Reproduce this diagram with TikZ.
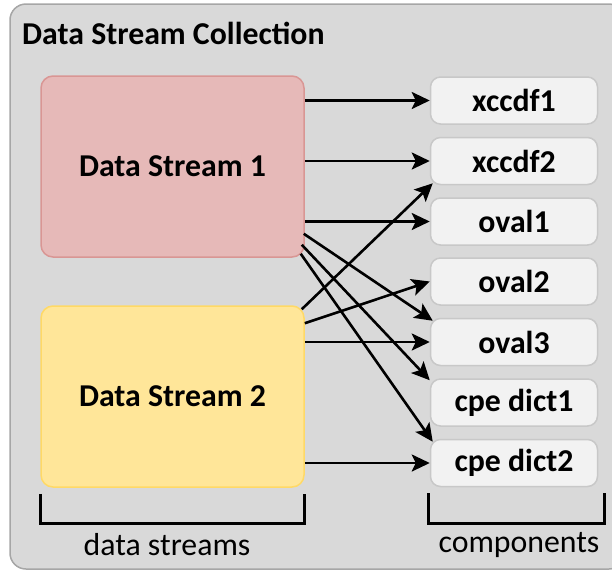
\documentclass[tikz,border=0pt]{standalone}
\usepackage{fontspec}
\setmainfont{Carlito}
\usetikzlibrary{arrows.meta,calc}
\definecolor{outerfill}{HTML}{D9D9D9}
\definecolor{outerdraw}{HTML}{A6A6A6}
\definecolor{dsonefill}{HTML}{E6B9B8}
\definecolor{dsonedraw}{HTML}{D99694}
\definecolor{dstwofill}{HTML}{FFE699}
\definecolor{dstwodraw}{HTML}{FFD966}
\definecolor{compfill}{HTML}{F2F2F2}
\definecolor{compdraw}{HTML}{C8C8C8}
\begin{document}
\begin{tikzpicture}[x=1pt,y=-1pt,
  txt/.style={font=\fontsize{31.8}{38}\selectfont},
  boldtxt/.style={font=\fontsize{31.8}{38}\selectfont\bfseries},
  outerbox/.style={draw=outerdraw,fill=outerfill,line width=1.5pt,rounded corners=16pt,minimum width=615pt,minimum height=565pt,inner sep=0pt},
  dsbox/.style={boldtxt,line width=1.5pt,rounded corners=12pt,minimum width=263pt,minimum height=181pt,inner sep=0pt},
  compbox/.style={boldtxt,draw=compdraw,fill=compfill,line width=1.5pt,rounded corners=10pt,minimum width=167pt,minimum height=47pt,inner sep=0pt},
  conn/.style={line width=2.6pt,-{Stealth[length=18pt,width=17pt,inset=4pt]}},
  brk/.style={line width=2.6pt}]
\useasboundingbox (0,0) rectangle (612,571);
\clip (0,0) rectangle (612,571);
\node[outerbox] (coll) at (317.5,286.5) {};
\node[boldtxt,anchor=base west,inner sep=0pt] (title) at (22,44) {Data Stream Collection};
\node[dsbox,draw=dsonedraw,fill=dsonefill] (ds1) at (172.5,166.5) {Data Stream 1};
\node[dsbox,draw=dstwodraw,fill=dstwofill] (ds2) at (172.5,396.5) {Data Stream 2};
\node[compbox] (x1) at (514,100.5) {xccdf1};
\node[compbox] (x2) at (514,161) {xccdf2};
\node[compbox] (o1) at (514,221.5) {oval1};
\node[compbox] (o2) at (514,281.5) {oval2};
\node[compbox] (o3) at (514,342) {oval3};
\node[compbox] (c1) at (514,402.5) {cpe dict1};
\node[compbox] (c2) at (514,463) {cpe dict2};
% horizontal arrows
\draw[conn] (ds1.east |- x1.west) -- (x1.west);
\draw[conn] (ds1.east |- x2.west) -- (x2.west);
\draw[conn] (ds1.east |- o1.west) -- (o1.west);
\draw[conn] (ds2.east |- o3.west) -- (o3.west);
\draw[conn] (ds2.east |- c2.west) -- (c2.west);
% diagonal arrows
\draw[conn] ($(ds1.south east)+(-1,-24)$) -- ($(o3.north west)+(3,3)$);
\draw[conn] ($(ds1.south east)+(-3,-13)$) -- ($(c1.north west)+(0,2)$);
\draw[conn] ($(ds1.south east)+(-4,-4)$) -- ($(c2.north west)+(3,3)$);
\draw[conn] ($(ds2.north east)+(-3,4)$) -- ($(x2.south west)+(3,-2)$);
\draw[conn] ($(ds2.north east)+(0,18)$) -- (o2.west);
% brackets
\coordinate (b1a) at ($(ds2.south west)+(0,6)$);
\coordinate (b1b) at ($(ds2.south east)+(0,6)$);
\coordinate (b2a) at ($(c2.south west)+(-1,6)$);
\coordinate (b2b) at ($(c2.south east)+(6,6)$);
\draw[brk] (b1a) -- ++(0,30) -| (b1b);
\draw[brk] (b2a) -- ++(0,30) -| (b2b);
\node[txt] (lds) at (167,545) {data streams};
\node[txt] (lcomp) at (519,545) {components};
\end{tikzpicture}
\end{document}
